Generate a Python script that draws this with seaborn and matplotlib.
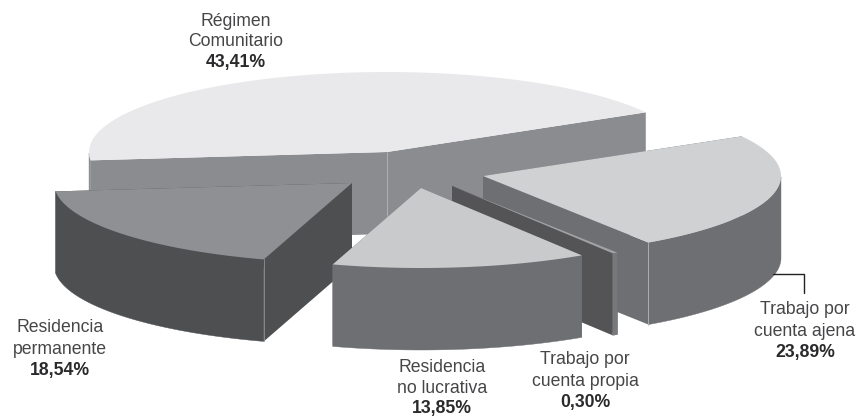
import numpy as np
import seaborn as sns
import matplotlib.pyplot as plt

# shares of each group, clockwise from the left of the pie
grupos = ["Régimen\nComunitario", "Trabajo por\ncuenta ajena", "Trabajo por\ncuenta propia",
          "Residencia\nno lucrativa", "Residencia\npermanente"]
valores = [43.41, 23.89, 0.30, 13.85, 18.54]
etiquetas = ["43,41%", "23,89%", "0,30%", "13,85%", "18,54%"]

color_top = ["#e9e9eb", "#d0d1d3", "#a0a1a3", "#c9cacc", "#8f9093"]
color_lado = ["#8b8c8f", "#6e6f72", "#545456", "#6e6f72", "#4e4f51"]
color_arco = ["#8b8c8f", "#6e6f72", "#77787a", "#6e6f72", "#4e4f51"]
# where each exploded slice has its tip
centros = [(387, 152), (483, 176), (452, 186), (421, 188), (352, 183)]
# where each label goes (centre x, y of first line, line step)
pos_texto = [(236, 21, 20.5), (805, 310, 21.5), (585, 360, 21.5), (442, 368, 20.3), (60, 328, 21.5)]
orden = [0, 4, 1, 2, 3]

A, B, PROF = 298, 80, 82
INICIO = 186

sns.set_theme(style="white")
plt.rcParams['font.family'] = ['Liberation Sans', 'DejaVu Sans']

fig, ax = plt.subplots(figsize=(8.57, 4.17), dpi=100)
ax.set_position([0, 0, 1, 1])
ax.set_xlim(0, 857)
ax.set_ylim(417, 0)
ax.axis("off")

# angle limits of each slice come from the values
fin = INICIO - np.cumsum(valores) * 3.6
ini = np.concatenate([[INICIO], fin[:-1]])


def borde(i):
    t = np.radians(np.linspace(ini[i], fin[i], 120))
    cx, cy = centros[i]
    return cx + A * np.cos(t), cy - B * np.sin(t), np.sin(t) <= 0


for i in orden:
    cx, cy = centros[i]
    xs, ys, frente = borde(i)
    # cut faces
    for x0, y0 in [(xs[0], ys[0]), (xs[-1], ys[-1])]:
        ax.fill([cx, x0, x0, cx], [cy, y0, y0 + PROF, cy + PROF], color=color_lado[i], lw=0)
    # curved outer face, only the part that looks forward
    xf, yf = xs[frente], ys[frente]
    ax.fill(np.r_[xf, xf[::-1]], np.r_[yf, yf[::-1] + PROF], color=color_arco[i], lw=0.3)
    # top
    ax.fill(np.r_[cx, xs], np.r_[cy, ys], color=color_top[i], lw=0)

# thin light edges on the front corners
x1, y1, _ = borde(4)
x2, y2, _ = borde(1)
ax.plot([centros[0][0]] * 2, [centros[0][1], centros[0][1] + 64], color="#b4b5b7", lw=0.6)
ax.plot([x1[0]] * 2, [y1[0], y1[0] + PROF], color="#8f9093", lw=0.6)
ax.plot([x2[-1]] * 2, [y2[-1], y2[-1] + PROF], color="#b4b5b7", lw=0.6)

# leader line of the right label
ax.plot([773, 804, 804], [274, 274, 293], color="#222222", lw=1)

for i in range(len(grupos)):
    x, y, paso = pos_texto[i]
    lineas = grupos[i].split("\n")
    for j, t in enumerate(lineas):
        ax.text(x, y + j * paso, t, ha="center", va="center", fontsize=12.7, color="#464648")
    ax.text(x, y + 2 * paso, etiquetas[i], ha="center", va="center", fontsize=12.7,
            fontweight="bold", color="#2a2a2c")

fig.savefig("out.png", dpi=100)
